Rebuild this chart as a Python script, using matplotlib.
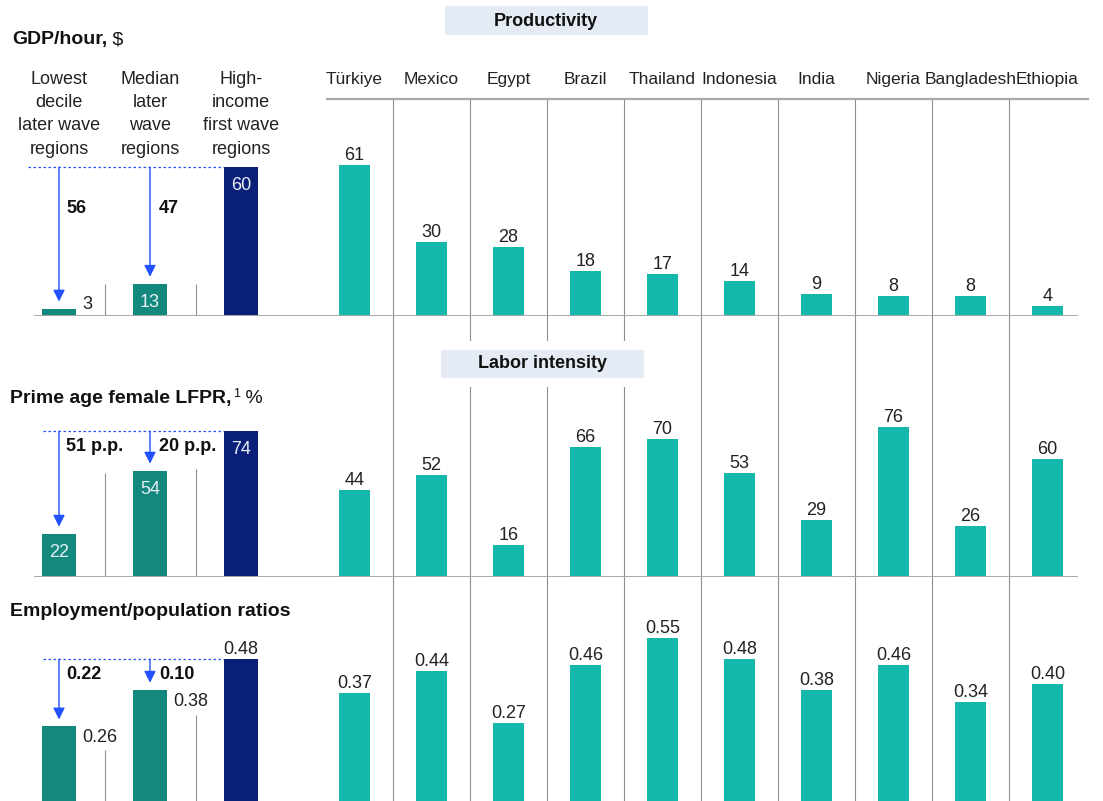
import matplotlib.pyplot as plt
from matplotlib.patches import Rectangle

plt.rcParams['font.family'] = ['Liberation Sans', 'DejaVu Sans']

# Comparison groups (left) and countries (right)
regions = ['Lowest\ndecile\nlater wave\nregions', 'Median\nlater\nwave\nregions',
           'High-\nincome\nfirst wave\nregions']
countries = ['Türkiye', 'Mexico', 'Egypt', 'Brazil', 'Thailand', 'Indonesia',
             'India', 'Nigeria', 'Bangladesh', 'Ethiopia']

gdp_regions = [3, 13, 60]
gdp_countries = [61, 30, 28, 18, 17, 14, 9, 8, 8, 4]
gdp_gaps = ['56', '47']

lfpr_regions = [22, 54, 74]
lfpr_countries = [44, 52, 16, 66, 70, 53, 29, 76, 26, 60]
lfpr_gaps = ['51 p.p.', '20 p.p.']

emp_regions = [0.26, 0.38, 0.48]
emp_countries = [0.37, 0.44, 0.27, 0.46, 0.55, 0.48, 0.38, 0.46, 0.34, 0.40]
emp_gaps = ['0.22', '0.10']

TEAL = '#14B8AA'
DARK_TEAL = '#12897C'
NAVY = '#0A1F78'
BLUE = '#2251FF'
GRID = '#8f8f8f'
BASE = '#a8a8a8'
BOX = '#E5EBF4'
TXT = '#222222'

W, H = 1103, 801
fig = plt.figure(figsize=(W / 100, H / 100), dpi=100)


def px_axes(x0, x1, ytop, ybot):
    ax = fig.add_axes([x0 / W, 1 - ybot / H, (x1 - x0) / W, (ybot - ytop) / H])
    ax.set_axis_off()
    return ax


def px_rect(x0, x1, y0, y1, color, z):
    fig.add_artist(Rectangle((x0 / W, 1 - y1 / H), (x1 - x0) / W, (y1 - y0) / H,
                             transform=fig.transFigure, facecolor=color,
                             edgecolor='none', zorder=z))


# per-row layout: baseline px, px per unit, top px
rows = [
    dict(vals_r=gdp_regions, vals_c=gdp_countries, gaps=gdp_gaps, fmt='{:.0f}',
         base=316, scale=2.48, top=99, modes=['right', 'in', 'in'], right_dy=0,
         gap_dy=-46, dot_x0=-0.34, seps=[32, 32]),
    dict(vals_r=lfpr_regions, vals_c=lfpr_countries, gaps=lfpr_gaps, fmt='{:.0f}',
         base=577, scale=1.97, top=316, modes=['in', 'in', 'in'], right_dy=0,
         gap_dy=-20, dot_x0=-0.18, seps=[104, 108]),
    dict(vals_r=emp_regions, vals_c=emp_countries, gaps=emp_gaps, fmt='{:.2f}',
         base=806, scale=306, top=577, modes=['right', 'right', 'above'], right_dy=-16,
         gap_dy=-20, dot_x0=-0.18, seps=[56, 91]),
]

wl, wc = 0.38, 0.40
xr = range(len(regions))
xc = range(len(countries))
axes_c = []
axes_l = []

for r in rows:
    ymax = (r['base'] - r['top']) / r['scale']
    axl = px_axes(34, 300, r['top'], r['base'])
    axl.set_xlim((34 - 59) / 91, (300 - 59) / 91)
    axl.set_ylim(0, ymax)
    axc = px_axes(300, 1078, r['top'], r['base'])
    axc.set_xlim((300 - 354.5) / 77, (1078 - 354.5) / 77)
    axc.set_ylim(0, ymax)
    axes_l.append(axl)
    axes_c.append(axc)

    # country panel
    for i in range(len(countries) - 1):
        axc.axvline(i + 0.5, color=GRID, lw=0.8, zorder=1)
    axc.bar(xc, r['vals_c'], width=wc, color=TEAL, zorder=2)
    for i, v in enumerate(r['vals_c']):
        axc.annotate(r['fmt'].format(v), xy=(i, v), xytext=(0, 5),
                     textcoords='offset pixels', ha='center', va='baseline',
                     fontsize=13, color=TXT)
    axc.axhline(0, color=BASE, lw=1.4, zorder=3)

    # comparison panel
    for k, s in enumerate(r['seps']):
        axl.vlines(k + 0.5, 0, s / r['scale'], color=GRID, lw=0.8, zorder=1)
    axl.bar(xr, r['vals_r'], width=wl, color=[DARK_TEAL, DARK_TEAL, NAVY], zorder=2)
    axl.axhline(0, color=BASE, lw=1.4, zorder=3)
    for i, (v, m) in enumerate(zip(r['vals_r'], r['modes'])):
        s = r['fmt'].format(v)
        if m == 'in':
            axl.annotate(s, xy=(i, v), xytext=(0, -23), textcoords='offset pixels',
                         ha='center', va='baseline', fontsize=13, color='#e8eef5')
        elif m == 'right':
            axl.annotate(s, xy=(i + wl / 2, v), xytext=(6, r['right_dy']),
                         textcoords='offset pixels', ha='left', va='baseline',
                         fontsize=13, color=TXT)
        else:
            axl.annotate(s, xy=(i, v), xytext=(0, 5), textcoords='offset pixels',
                         ha='center', va='baseline', fontsize=13, color=TXT)

    # gap to the high-income group
    hi = r['vals_r'][2]
    axl.plot([r['dot_x0'], 2 - wl / 2], [hi, hi], color=BLUE, lw=0.9,
             ls=(0, (2, 2)), clip_on=False, zorder=4)
    for i in range(2):
        axl.annotate('', xy=(i, r['vals_r'][i]), xytext=(i, hi),
                     arrowprops=dict(arrowstyle='-|>,head_length=0.7,head_width=0.35',
                                     color=BLUE, lw=1.0, shrinkA=0, shrinkB=5,
                                     mutation_scale=10), zorder=4)
        axl.annotate(r['gaps'][i], xy=(i, hi), xytext=(7 if i == 0 else 9, r['gap_dy']),
                     textcoords='offset pixels', ha='left', va='baseline',
                     fontsize=13, fontweight='bold', color='#111111')

# column headers
ax1c, ax1l = axes_c[0], axes_l[0]
for i, name in enumerate(countries):
    ax1c.annotate(name, xy=(i, 1), xycoords=('data', 'axes fraction'), xytext=(0, 15),
                  textcoords='offset pixels', ha='center', va='baseline',
                  fontsize=12.5, color=TXT)
for i, name in enumerate(regions):
    ax1l.annotate(name, xy=(i, 1), xycoords=('data', 'axes fraction'), xytext=(0, 28),
                  textcoords='offset pixels', ha='center', va='top',
                  fontsize=13, color=TXT, linespacing=1.48)
ymax1 = ax1c.get_ylim()[1]
ax1c.plot([(327 - 354.5) / 77, (1088 - 354.5) / 77], [ymax1, ymax1], color=BASE,
          lw=1.6, clip_on=False, zorder=3)

# section banners
px_rect(445, 648, 6, 35, BOX, 5)
fig.text(546 / W, 1 - 21 / H, 'Productivity', ha='center', va='center',
         fontsize=13, fontweight='bold', color='#111111', zorder=6)
px_rect(436, 650, 341, 387, 'white', 4)
px_rect(441, 644, 350, 378, BOX, 5)
fig.text(542 / W, 1 - 364 / H, 'Labor intensity', ha='center', va='center',
         fontsize=13, fontweight='bold', color='#111111', zorder=6)

# row titles
t1 = fig.text(12 / W, 1 - 44 / H, 'GDP/hour,', fontsize=14, fontweight='bold',
              va='baseline', color='#111111')
ax1l.annotate(' $', xy=(1, 0), xycoords=t1, ha='left', va='bottom',
              fontsize=14, color='#111111')
t2 = fig.text(10 / W, 1 - 403 / H, 'Prime age female LFPR,', fontsize=14,
              fontweight='bold', va='baseline', color='#111111')
sup = ax1l.annotate('1', xy=(1, 1), xycoords=t2, xytext=(2, 2),
                    textcoords='offset pixels', ha='left', va='top',
                    fontsize=9, color='#111111')
ax1l.annotate(' %', xy=(1, 0), xycoords=(sup, t2), ha='left', va='bottom',
              fontsize=14, color='#111111')
fig.text(10 / W, 1 - 616 / H, 'Employment/population ratios', fontsize=14,
         fontweight='bold', va='baseline', color='#111111')

fig.savefig('out.png', dpi=100)
